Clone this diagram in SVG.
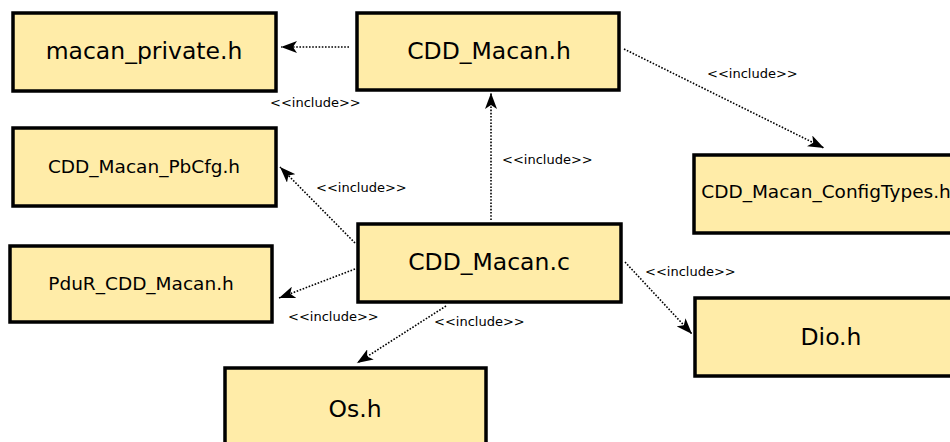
<svg xmlns="http://www.w3.org/2000/svg" width="950" height="442" viewBox="0 0 950 442">
<defs>
<style>
.box{fill:#ffeca8;stroke:#000;stroke-width:3.5}
.big{font-family:"DejaVu Sans",sans-serif;font-size:23.5px;fill:#000;text-anchor:middle}
.mid{font-family:"DejaVu Sans",sans-serif;font-size:18.5px;fill:#000;text-anchor:middle}
.lbl{font-family:"DejaVu Sans",sans-serif;font-size:13px;fill:#000}
.edge{fill:none;stroke:#000;stroke-width:1.6;stroke-dasharray:1.6,1.6}
</style>
<marker id="arr" viewBox="0 0 16 12" refX="16" refY="6" markerWidth="16" markerHeight="12" markerUnits="userSpaceOnUse" orient="auto">
<path d="M0,0 L16,6 L0,12 L4,6 Z" fill="#000"/>
</marker>
</defs>
<rect width="950" height="442" fill="#fff"/>
<g id="connectors">
<line class="edge" x1="349" y1="47" x2="281" y2="47" marker-end="url(#arr)"/>
<text class="lbl" x="270" y="107">&lt;&lt;include&gt;&gt;</text>
<line class="edge" x1="491" y1="220" x2="491" y2="93" marker-end="url(#arr)"/>
<text class="lbl" x="502" y="164">&lt;&lt;include&gt;&gt;</text>
<line class="edge" x1="624" y1="49" x2="824" y2="148" marker-end="url(#arr)"/>
<text class="lbl" x="707" y="78">&lt;&lt;include&gt;&gt;</text>
<line class="edge" x1="355" y1="243" x2="280" y2="167" marker-end="url(#arr)"/>
<text class="lbl" x="316" y="192">&lt;&lt;include&gt;&gt;</text>
<line class="edge" x1="355" y1="269" x2="279" y2="298" marker-end="url(#arr)"/>
<text class="lbl" x="288" y="321">&lt;&lt;include&gt;&gt;</text>
<line class="edge" x1="446" y1="306" x2="357" y2="363" marker-end="url(#arr)"/>
<text class="lbl" x="434" y="326">&lt;&lt;include&gt;&gt;</text>
<line class="edge" x1="625" y1="262" x2="692" y2="334" marker-end="url(#arr)"/>
<text class="lbl" x="645" y="276">&lt;&lt;include&gt;&gt;</text>
</g>
<g id="macan_private_h">
<rect class="box" x="13" y="13" width="263" height="78"/>
<text class="big" x="144" y="59">macan_private.h</text>
</g>
<g id="CDD_Macan_h">
<rect class="box" x="357" y="13" width="262" height="77"/>
<text class="big" x="489" y="59">CDD_Macan.h</text>
</g>
<g id="CDD_Macan_ConfigTypes_h">
<rect class="box" x="694" y="155" width="274" height="78"/>
<text class="mid" x="826" y="198">CDD_Macan_ConfigTypes.h</text>
</g>
<g id="CDD_Macan_PbCfg_h">
<rect class="box" x="13" y="128" width="263" height="78"/>
<text class="mid" x="144" y="173">CDD_Macan_PbCfg.h</text>
</g>
<g id="PduR_CDD_Macan_h">
<rect class="box" x="10" y="246" width="262" height="76"/>
<text class="mid" x="141" y="290">PduR_CDD_Macan.h</text>
</g>
<g id="CDD_Macan_c">
<rect class="box" x="358" y="224" width="263" height="78"/>
<text class="big" x="489" y="270">CDD_Macan.c</text>
</g>
<g id="Dio_h">
<rect class="box" x="695" y="298" width="274" height="78"/>
<text class="big" x="831" y="345">Dio.h</text>
</g>
<g id="Os_h">
<rect class="box" x="225" y="368" width="261" height="80"/>
<text class="big" x="355" y="417">Os.h</text>
</g>
</svg>
